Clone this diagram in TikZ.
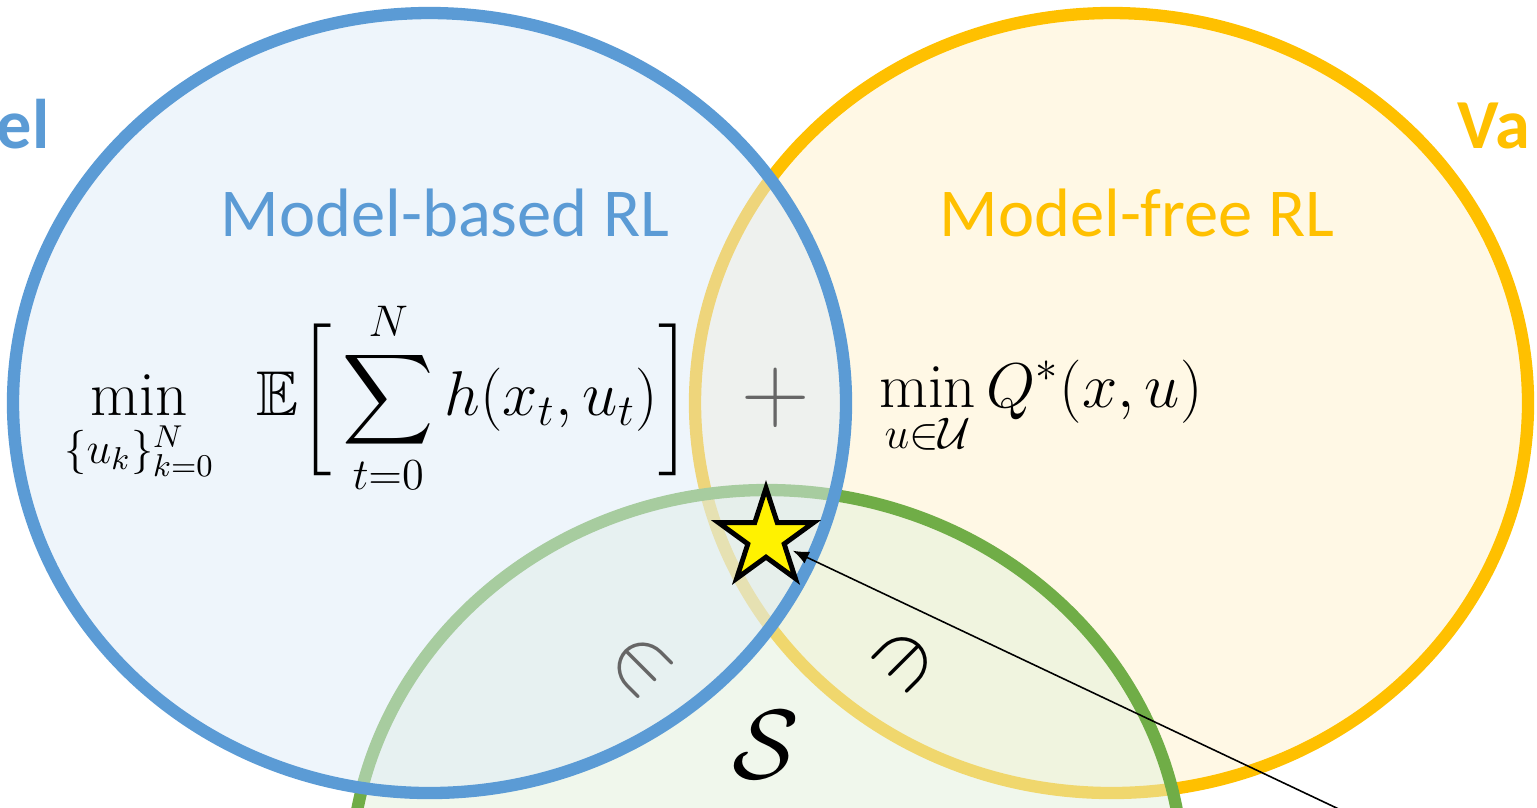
\RequirePackage{fix-cm}
\documentclass[tikz,border=0pt]{standalone}
\usepackage{amsmath,amssymb}
\usepackage{fontspec}
\newfontfamily\calibri{Carlito}
\usetikzlibrary{shapes.geometric,arrows.meta}
\definecolor{mbblue}{HTML}{5B9BD5}
\definecolor{mfgold}{HTML}{FFC000}
\definecolor{setgreen}{HTML}{70AD47}
\definecolor{markgrey}{HTML}{666666}

\begin{document}
\begin{tikzpicture}
  [every node/.style={inner sep=0pt},
   set/.style={ellipse,minimum width=8.33cm,minimum height=7.8cm,
     line width=3.5pt,draw=#1,fill=#1!20,fill opacity=.5},
   title/.style={font=\calibri\fontsize{19.5}{22}\selectfont},
   cut/.style={font=\calibri\bfseries\fontsize{20}{22}\selectfont}]
  \useasboundingbox (0,0) rectangle (15.37,-8.07);
  \clip (0,0) rectangle (15.37,-8.07);

  \node[set=mfgold]   (mfset) at (11.115,-4.03) {};
  \node[set=setgreen] (sset)  at (7.67,-8.80)   {};
  \node[set=mbblue]   (mbset) at (4.295,-4.03)  {};

  \node[cut,text=mbblue,anchor=base east] (mbcut) at (0.50,-1.48) {el};
  \node[cut,text=mfgold,anchor=base west] (mfcut) at (14.57,-1.48) {Va};
  \node[title,text=mbblue] (mbtitle) at (4.45,-2.13)  {Model-based RL};
  \node[title,text=mfgold] (mftitle) at (11.37,-2.13) {Model-free RL};

  \node (mbcost) at (3.78,-3.98)
    {\fontsize{18}{21}\selectfont$\displaystyle\min_{\{u_k\}_{k=0}^N}\hspace{.5em}\mathbb{E}\bigg[\sum_{t=0}^N h(x_t,u_t)\bigg]$};
  \node[text=markgrey] (plus) at (7.76,-3.98) {\fontsize{27}{27}\selectfont$+$};
  \node (mfcost) at (10.41,-4.08)
    {\fontsize{18}{21}\selectfont$\displaystyle\min_{u\in\mathcal{U}}Q^*(x,u)$};

  \node[rotate=-45,text=markgrey] (inl) at (6.41,-6.66) {\fontsize{25}{25}\selectfont$\in$};
  \node[rotate=45] (inr) at (9.05,-6.60) {\fontsize{25}{25}\selectfont$\ni$};
  \node (sname) at (7.66,-7.45) {\fontsize{28}{28}\selectfont$\mathcal{S}$};

  \node[star,star points=5,star point ratio=2.618,minimum size=1cm,
    draw,line width=1.4pt,fill=yellow] (goal) at (7.66,-5.38) {};
  \coordinate (tail) at (13.62,-8.20);
  \draw[-{Latex[length=1.6mm,width=1.3mm]},line width=.45pt,shorten >=.5mm] (tail) -- (goal);

\end{tikzpicture}
\end{document}
